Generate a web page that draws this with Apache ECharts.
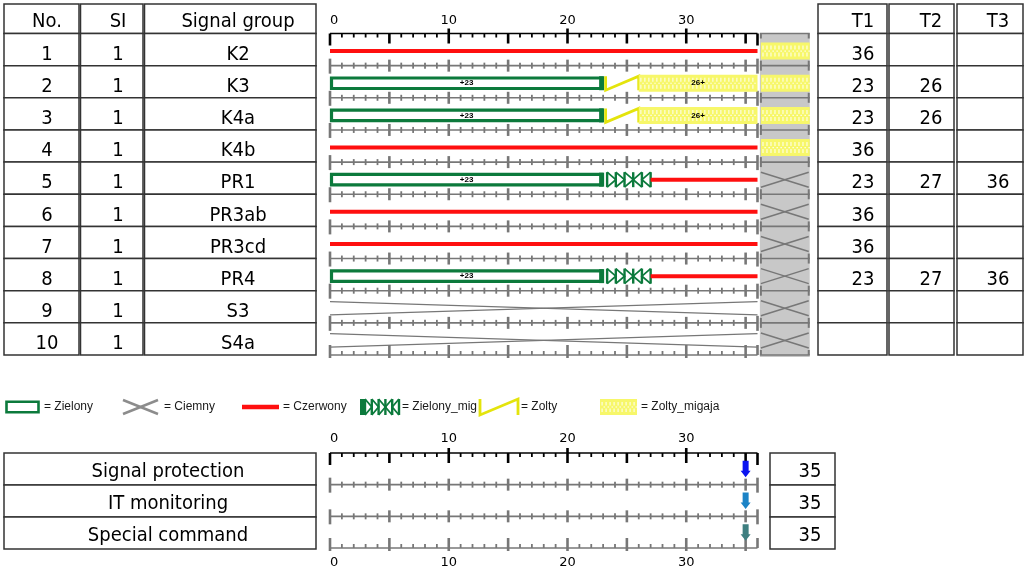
<!DOCTYPE html>
<html><head><meta charset="utf-8">
<script src="https://cdn.jsdelivr.net/npm/echarts@6/dist/echarts.min.js"></script>
<style>html,body{margin:0;padding:0;background:#fff}#c{width:1024px;height:569px}</style>
</head><body><div id="c"></div>
<script>
// ---------------- data ----------------
const signalNos = [1,2,3,4,5,6,7,8,9,10];
const signalSI = [1,1,1,1,1,1,1,1,1,1];
const signalGroups = ['K2','K3','K4a','K4b','PR1','PR3ab','PR3cd','PR4','S3','S4a'];
const T1 = [36,23,23,36,23,36,36,23,null,null];
const T2 = [null,26,26,null,27,null,null,27,null,null];
const T3 = [null,null,null,null,36,null,null,36,null,null];
const cycleLength = 36;
const axisTickLabels = [0,10,20,30];
// [row, state, start, end]
const segments = [
  [0,'red',0,36],
  [1,'green',0,23],[1,'yellow',23,26],[1,'yflash',26,36],
  [2,'green',0,23],[2,'yellow',23,26],[2,'yflash',26,36],
  [3,'red',0,36],
  [4,'green',0,23],[4,'gflash',23,27],[4,'red',27,36],
  [5,'red',0,36],
  [6,'red',0,36],
  [7,'green',0,23],[7,'gflash',23,27],[7,'red',27,36],
  [8,'dark',0,36],
  [9,'dark',0,36]
];
const endStates = ['yflash','yflash','yflash','yflash','dark','dark','dark','dark','dark','dark'];
const legendStates = ['green','dark','red','gflash','yellow','yflash'];
const legendNames = ['Zielony','Ciemny','Czerwony','Zielony_mig','Zolty','Zolty_migaja'];
const cmdNames = ['Signal protection','IT monitoring','Special command'];
const cmdTimes = [35,35,35];

// ---------------- styles / layout ----------------
const C = {green:'#0c7a3c', red:'#ff0f0f', grey:'#777777', yellow:'#e4e40c', yflash:'#f7f76a',
           box:'#c8c8c8', black:'#000', table:'#333333'};
const cmdColors = ['#0a14f0','#1b83c6','#3e7f80'];
const F_TAB = "'DejaVu Sans Condensed','DejaVu Sans',sans-serif";
const F_AX = "'DejaVu Sans',sans-serif";
const F_LEG = "'Liberation Sans',Arial,sans-serif";
const PLOT_L = 330, PLOT_W = 427.5;
const TOP_T = 33.5, TOP_H = 321.5, BOT_T = 453, BOT_H = 96;
const BOX_FROM = 36.2, BOX_TO = 40.4;
const BAR_DY = 1.5;

function line(x1,y1,x2,y2,stroke,lw){return {type:'line',shape:{x1,y1,x2,y2},style:{stroke,lineWidth:lw}};}
function rect(x,y,w,h,style){return {type:'rect',shape:{x,y,width:w,height:h},style};}
function txt(text,x,y,font,align,fill){return {type:'text',style:{text:String(text),x,y,font,fill:fill||'#000',align:align||'center',verticalAlign:'middle'}};}

function drawGreen(x0,x1,yc,opt){
  const h = opt.h || 10.5;
  const els=[rect(x0+1.5,yc-h/2,x1-x0-3,h,{fill:'#fff',stroke:C.green,lineWidth:opt.lw||3.2})];
  if(opt.thickEnd) els.push(rect(x1-4,yc-7,5,14,{fill:C.green}));
  if(opt.label) els.push(txt(opt.label,(x0+x1)/2,yc,"bold 8px 'Liberation Sans',sans-serif"));
  return els;
}
function drawGFlash(x0,x1,yc,opt){
  const h = opt.h || 7.5;
  const els=[];
  const s = x0 + (opt.skip||4);
  const n = 5, w = (x1 - s)/n;
  if(opt.legend) els.push(rect(x0,yc-h,4,2*h,{fill:C.green}));
  for(let i=0;i<=n;i++){ els.push(line(s+i*w,yc-h,s+i*w,yc+h,C.green,2.4)); }
  for(let i=0;i<n;i++){
    const a=s+i*w, b=s+(i+1)*w;
    if(i<3){ els.push({type:'polyline',shape:{points:[[a,yc-h],[b,yc],[a,yc+h]]},style:{stroke:C.green,lineWidth:1.8,fill:null}}); }
    else { els.push({type:'polyline',shape:{points:[[b,yc-h],[a,yc],[b,yc+h]]},style:{stroke:C.green,lineWidth:1.8,fill:null}}); }
  }
  return els;
}
function drawYellow(x0,x1,yc,opt){
  const h = opt.h || 7;
  return [{type:'polyline',shape:{points:[[x0+2.5,yc-h],[x0+2.5,yc+h],[x1,yc-h],[x1,yc+h]]},style:{stroke:C.yellow,lineWidth:2.8,fill:null}}];
}
function drawYFlash(x0,x1,yc,opt){
  const h = opt.h || 8.5;
  const els=[rect(x0,yc-h,x1-x0,2*h,{fill:C.yflash})];
  for(let x=x0+1.5;x<x1-1.5;x+=4){
    els.push(rect(x,yc-h+3,1.2,h-4.5,{fill:'#fdfde0'}));
    els.push(rect(x,yc+1.5,1.2,h-4.5,{fill:'#fdfde0'}));
    els.push(rect(x+2,yc-0.6,1.6,1.2,{fill:'#fdfde0'}));
  }
  if(opt.label) els.push(txt(opt.label,(x0+x1)/2,yc,"bold 8px 'Liberation Sans',sans-serif"));
  return els;
}
function drawDark(x0,x1,yc,opt){
  const h = opt.h || 6.7;
  return [line(x0,yc-h,x1,yc+h,opt.color||C.grey,opt.lw||1.3), line(x0,yc+h,x1,yc-h,opt.color||C.grey,opt.lw||1.3)];
}
function drawRed(x0,x1,yc,opt){ return [line(x0,yc,x1,yc,C.red,opt.lw||4)]; }
const DRAW = {green:drawGreen,gflash:drawGFlash,yellow:drawYellow,yflash:drawYFlash,dark:drawDark,red:drawRed};

// tick line for a row boundary
function tickLine(api,k,kind,color){
  const y = api.coord([0,k])[1];
  const xs = v => api.coord([v,k])[0];
  const els=[line(xs(0),y,xs(cycleLength),y,color,1.6)];
  for(let v=0; v<=cycleLength; v++){
    const x = xs(v);
    const major = v%5===0, end = (v===0||v===cycleLength);
    let up, down;
    if(kind==='top'){ up = (v%10===0 && !end) ? 5 : 0; down = end?12:(major?10:4); }
    else if(kind==='bottom'){ up = end?10:(major?10:4); down = major?3:0; }
    else { up = end?7:(major?6:3); down = end?8:(major?6:3); }
    els.push(line(x,y-up,x,y+down,color,(major||end)?2.6:1.8));
  }
  return {type:'group',children:els};
}

const rowBounds = Array.from({length:signalGroups.length+1},(_,k)=>k);
const cmdBounds = Array.from({length:cmdNames.length+1},(_,k)=>k);

// ---------------- tables (graphic) ----------------
const graphics = [];
const rowH = TOP_H/signalGroups.length;
function rowTop(i){ return TOP_T + rowH*i; }
function cell(x0,x1,y0,y1,lw){ graphics.push(rect(x0,y0,x1-x0,y1-y0,{fill:'#fff',stroke:C.table,lineWidth:lw||1.5})); }
const leftCols = [[4,79,47],[80.5,143,118],[144.5,316,238]];
const rightCols = [[818,887,863],[889,954,931],[957,1023,998]];
const leftHead = ['No.','SI','Signal group'];
const rightHead = ['T1','T2','T3'];
[leftCols,rightCols].forEach((cols,ti)=>{
  cols.forEach((c,ci)=>{
    cell(c[0],c[1],4,TOP_T);
    graphics.push(txt(ti===0?leftHead[ci]:rightHead[ci],c[2],TOP_T-12,'20px '+F_TAB));
    for(let i=0;i<signalGroups.length;i++){
      cell(c[0],c[1],rowTop(i),rowTop(i+1));
      let v;
      if(ti===0) v = [signalNos,signalSI,signalGroups][ci][i];
      else v = [T1,T2,T3][ci][i];
      if(v!==null && v!==undefined) graphics.push(txt(v,c[2],rowTop(i+1)-11,'20px '+F_TAB));
    }
  });
});
const cmdH = BOT_H/cmdNames.length;
cmdNames.forEach((n,i)=>{
  const y0 = BOT_T + cmdH*i, y1 = y0 + cmdH;
  cell(4,316,y0,y1);
  graphics.push(txt(n,168,y1-13,'20px '+F_TAB));
  cell(770,835,y0,y1);
  graphics.push(txt(cmdTimes[i],810,y1-13,'20px '+F_TAB));
});
// legend
const legIcon = [[5,40],[123,158],[242,279],[360,399],[480,518],[600,637]];
const legText = [44,164,283,402,521,641];
const LEG_Y = 407;
legendStates.forEach((s,i)=>{
  const [a,b] = legIcon[i];
  let els;
  if(s==='green') els = drawGreen(a,b,LEG_Y,{h:10.5,lw:2.6});
  else if(s==='dark') els = drawDark(a,b,LEG_Y,{h:7,lw:2.5,color:'#8c8c8c'});
  else if(s==='red') els = drawRed(a,b,LEG_Y,{lw:4.5});
  else if(s==='gflash') els = drawGFlash(a,b,LEG_Y,{h:8,legend:true,skip:5});
  else if(s==='yellow') els = drawYellow(a-2.5,b,LEG_Y,{h:8});
  else els = drawYFlash(a,b,LEG_Y,{h:8});
  graphics.push({type:'group',children:els});
  graphics.push(txt('= '+legendNames[i],legText[i],LEG_Y,'12px '+F_LEG,'left','#1a1a1a'));
});

// ---------------- chart ----------------
const chart = echarts.init(document.getElementById('c'),null,{renderer:'canvas'});
const xAxisBase = {type:'value',min:0,max:cycleLength,interval:10,
  axisLine:{show:false},axisTick:{show:false},splitLine:{show:false},
  axisLabel:{fontSize:13,fontFamily:F_AX,color:'#000',showMaxLabel:false,alignMinLabel:'left',
    formatter:v=>axisTickLabels.indexOf(v)>=0?String(v):''}};
chart.setOption({
  animation:false,
  grid:[
    {left:PLOT_L,top:TOP_T,width:PLOT_W,height:TOP_H},
    {left:PLOT_L,top:BOT_T,width:PLOT_W,height:BOT_H}
  ],
  xAxis:[
    Object.assign({},xAxisBase,{gridIndex:0,position:'top',axisLabel:Object.assign({},xAxisBase.axisLabel,{margin:6})}),
    Object.assign({},xAxisBase,{gridIndex:1,position:'top',axisLabel:Object.assign({},xAxisBase.axisLabel,{margin:8})}),
    Object.assign({},xAxisBase,{gridIndex:1,position:'bottom',axisLabel:Object.assign({},xAxisBase.axisLabel,{margin:8})})
  ],
  yAxis:[
    {type:'value',gridIndex:0,min:0,max:signalGroups.length,inverse:true,show:false},
    {type:'value',gridIndex:1,min:0,max:cmdNames.length,inverse:true,show:false}
  ],
  graphic:graphics,
  series:[
    { // grey end-of-cycle box
      type:'custom',xAxisIndex:0,yAxisIndex:0,clip:false,z:1,
      data:[[BOX_FROM,0,BOX_TO,signalGroups.length]],
      renderItem:(params,api)=>{
        const p0 = api.coord([api.value(0),api.value(1)]);
        const p1 = api.coord([api.value(2),api.value(3)]);
        const els=[rect(p0[0],p0[1],p1[0]-p0[0],p1[1]-p0[1]+2,{fill:C.box})];
        rowBounds.forEach(k=>{
          const y = api.coord([0,k])[1];
          els.push(line(p0[0],y,p1[0],y,C.grey,1.6));
          const up = k===0?0:5, dn = k===rowBounds.length-1?0:5;
          els.push(line(p0[0]+1,y-up,p0[0]+1,y+dn,C.grey,2));
          els.push(line(p1[0]-1,y-up,p1[0]-1,y+dn,C.grey,2));
        });
        return {type:'group',children:els};
      }
    },
    { // row tick lines (top chart)
      type:'custom',xAxisIndex:0,yAxisIndex:0,clip:false,z:2,
      data:rowBounds.map(k=>[0,k]),
      renderItem:(params,api)=>{
        const k = api.value(1);
        const kind = k===0?'top':(k===rowBounds.length-1?'bottom':'mid');
        return tickLine(api,k,kind,k===0?C.black:C.grey);
      }
    },
    { // end-of-cycle states
      type:'custom',xAxisIndex:0,yAxisIndex:0,clip:false,z:3,
      data:endStates.map((s,i)=>[BOX_FROM,i+0.5,BOX_TO]),
      renderItem:(params,api)=>{
        const s = endStates[params.dataIndex];
        const p0 = api.coord([api.value(0),api.value(1)]);
        const p1 = api.coord([api.value(2),api.value(1)]);
        const yc = p0[1]+BAR_DY;
        const els = s==='dark' ? drawDark(p0[0]+1,p1[0]-1,yc,{h:7.5,lw:1.5}) : drawYFlash(p0[0]+1,p1[0],yc,{});
        return {type:'group',children:els};
      }
    },
    { // signal states
      type:'custom',xAxisIndex:0,yAxisIndex:0,clip:false,z:4,
      data:segments.map(s=>[s[2],s[0]+0.5,s[3]]),
      renderItem:(params,api)=>{
        const s = segments[params.dataIndex];
        const p0 = api.coord([api.value(0),api.value(1)]);
        const p1 = api.coord([api.value(2),api.value(1)]);
        const yc = p0[1]+BAR_DY;
        const opt = {};
        if(s[1]==='green'){ opt.thickEnd=true; opt.label='+'+s[3]; }
        if(s[1]==='yflash'){ opt.label=s[2]+'+'; }
        if(s[1]==='gflash'){ opt.skip=4; }
        return {type:'group',children:DRAW[s[1]](p0[0],p1[0],yc,opt)};
      }
    },
    { // row tick lines (bottom chart)
      type:'custom',xAxisIndex:1,yAxisIndex:1,clip:false,z:2,
      data:cmdBounds.map(k=>[0,k]),
      renderItem:(params,api)=>{
        const k = api.value(1);
        const kind = k===0?'top':(k===cmdBounds.length-1?'bottom':'mid');
        return tickLine(api,k,kind,k===0?C.black:C.grey);
      }
    },
    { // command arrows
      type:'custom',xAxisIndex:1,yAxisIndex:1,clip:false,z:4,
      data:cmdTimes.map((t,i)=>[t,i+0.5]),
      renderItem:(params,api)=>{
        const p = api.coord([api.value(0),api.value(1)]);
        const x=p[0], y=p[1];
        return {type:'polygon',shape:{points:[[x-3,y-8],[x+3,y-8],[x+3,y+2],[x+5,y+2],[x,y+8.5],[x-5,y+2],[x-3,y+2]]},
          style:{fill:cmdColors[params.dataIndex]}};
      }
    }
  ]
});
</script>
</body></html>
